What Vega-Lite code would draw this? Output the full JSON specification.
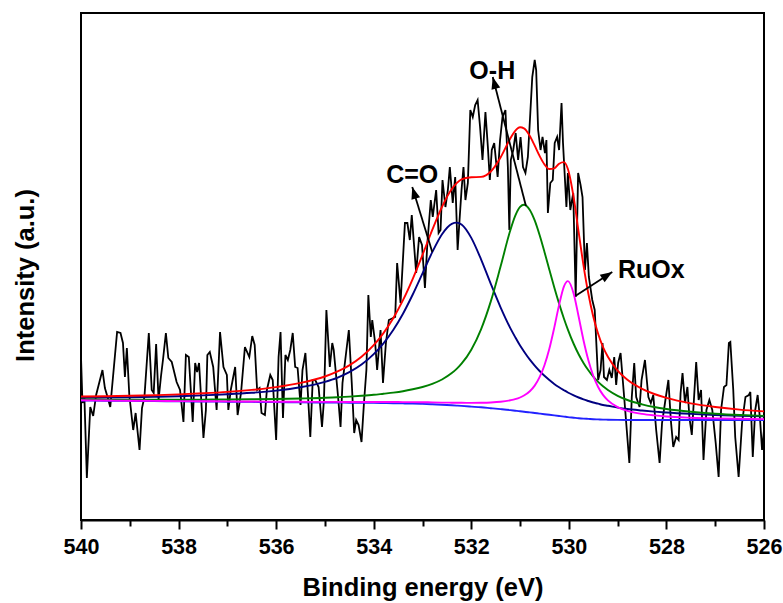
{
  "$schema": "https://vega.github.io/schema/vega-lite/v6.json",
  "width": 683,
  "height": 507,
  "autosize": "none",
  "padding": {"left": 81, "top": 13, "right": 19, "bottom": 83},
  "background": "white",
  "config": {
    "view": {"stroke": "#000", "strokeWidth": 2},
    "font": "Liberation Sans",
    "axis": {"grid": false, "domainColor": "#000", "domainWidth": 2, "tickColor": "#000", "tickWidth": 2, "labelColor": "#000", "titleColor": "#000", "labelFont": "Liberation Sans", "titleFont": "Liberation Sans"}
  },
  "datasets": {
    "raw": [
      {"E":540.00,"I":163},{"E":539.97,"I":117},{"E":539.93,"I":122},{"E":539.88,"I":42},{"E":539.81,"I":113},{"E":539.75,"I":104},{"E":539.69,"I":125},{"E":539.56,"I":150},{"E":539.51,"I":132},{"E":539.45,"I":122},{"E":539.40,"I":113},{"E":539.26,"I":188},{"E":539.19,"I":187},{"E":539.14,"I":177},{"E":539.10,"I":143},{"E":539.06,"I":172},{"E":539.01,"I":125},{"E":538.93,"I":90},{"E":538.88,"I":107},{"E":538.80,"I":70},{"E":538.75,"I":112},{"E":538.70,"I":123},{"E":538.61,"I":187},{"E":538.55,"I":130},{"E":538.51,"I":127},{"E":538.46,"I":176},{"E":538.41,"I":120},{"E":538.36,"I":144},{"E":538.32,"I":160},
      {"E":538.26,"I":187},{"E":538.21,"I":162},{"E":538.14,"I":158},{"E":538.04,"I":138},{"E":537.97,"I":130},{"E":537.90,"I":98},{"E":537.85,"I":165},{"E":537.79,"I":163},{"E":537.71,"I":98},{"E":537.66,"I":157},{"E":537.62,"I":148},{"E":537.58,"I":157},{"E":537.49,"I":82},{"E":537.44,"I":110},{"E":537.41,"I":165},{"E":537.36,"I":168},{"E":537.29,"I":153},{"E":537.22,"I":110},{"E":537.15,"I":188},{"E":537.08,"I":153},{"E":537.01,"I":145},{"E":536.98,"I":110},{"E":536.93,"I":130},{"E":536.84,"I":153},{"E":536.79,"I":105},{"E":536.72,"I":127},{"E":536.64,"I":173},{"E":536.55,"I":163},{"E":536.49,"I":184},
      {"E":536.44,"I":175},{"E":536.39,"I":130},{"E":536.34,"I":132},{"E":536.30,"I":107},{"E":536.23,"I":105},{"E":536.19,"I":130},{"E":536.12,"I":145},{"E":536.07,"I":140},{"E":536.00,"I":80},{"E":535.95,"I":163},{"E":535.91,"I":188},{"E":535.86,"I":102},{"E":535.81,"I":165},{"E":535.76,"I":160},{"E":535.71,"I":170},{"E":535.66,"I":187},{"E":535.61,"I":153},{"E":535.56,"I":152},{"E":535.50,"I":115},{"E":535.46,"I":150},{"E":535.40,"I":167},{"E":535.35,"I":127},{"E":535.30,"I":83},{"E":535.25,"I":140},{"E":535.20,"I":140},{"E":535.13,"I":133},{"E":535.06,"I":93},{"E":535.02,"I":120},{"E":534.97,"I":210},{"E":534.90,"I":153},{"E":534.85,"I":177},{"E":534.82,"I":170},{"E":534.73,"I":123},{"E":534.68,"I":93},
      {"E":534.64,"I":137},{"E":534.51,"I":190},{"E":534.45,"I":137},{"E":534.40,"I":87},{"E":534.36,"I":100},{"E":534.31,"I":95},{"E":534.25,"I":78},{"E":534.20,"I":117},{"E":534.15,"I":150},{"E":534.11,"I":225},{"E":534.06,"I":183},{"E":534.03,"I":200},{"E":533.97,"I":177},{"E":533.93,"I":150},{"E":533.86,"I":190},{"E":533.81,"I":137},{"E":533.75,"I":177},{"E":533.69,"I":200},{"E":533.56,"I":203},{"E":533.52,"I":257},{"E":533.45,"I":217},{"E":533.36,"I":297},{"E":533.31,"I":297},{"E":533.26,"I":280},{"E":533.22,"I":305},{"E":533.13,"I":247},{"E":533.07,"I":283},{"E":533.01,"I":275},{"E":532.95,"I":232},{"E":532.90,"I":277},
      {"E":532.83,"I":320},{"E":532.79,"I":303},{"E":532.72,"I":330},{"E":532.67,"I":287},{"E":532.63,"I":290},{"E":532.59,"I":340},{"E":532.53,"I":313},{"E":532.48,"I":330},{"E":532.44,"I":353},{"E":532.38,"I":317},{"E":532.33,"I":343},{"E":532.28,"I":270},{"E":532.25,"I":293},{"E":532.20,"I":330},{"E":532.16,"I":353},{"E":532.12,"I":320},{"E":532.07,"I":337},{"E":532.02,"I":410},{"E":531.97,"I":403},{"E":531.92,"I":415},{"E":531.87,"I":420},{"E":531.82,"I":393},{"E":531.77,"I":360},{"E":531.71,"I":408},{"E":531.66,"I":373},{"E":531.62,"I":340},{"E":531.58,"I":370},{"E":531.53,"I":377},{"E":531.46,"I":343},{"E":531.41,"I":380},{"E":531.36,"I":403},{"E":531.30,"I":410},{"E":531.25,"I":353},{"E":531.22,"I":290},{"E":531.19,"I":360},{"E":531.14,"I":370},
      {"E":531.09,"I":387},{"E":531.04,"I":360},{"E":530.99,"I":383},{"E":530.94,"I":353},{"E":530.89,"I":347},{"E":530.84,"I":363},{"E":530.79,"I":407},{"E":530.75,"I":443},{"E":530.70,"I":460},{"E":530.67,"I":450},{"E":530.63,"I":390},{"E":530.58,"I":370},{"E":530.54,"I":383},{"E":530.49,"I":367},{"E":530.46,"I":380},{"E":530.43,"I":307},{"E":530.38,"I":337},{"E":530.33,"I":340},{"E":530.29,"I":377},{"E":530.24,"I":383},{"E":530.20,"I":370},{"E":530.15,"I":417},{"E":530.12,"I":377},{"E":530.05,"I":313},{"E":530.02,"I":347},{"E":529.97,"I":310},{"E":529.91,"I":327},{"E":529.86,"I":223},{"E":529.81,"I":347},{"E":529.76,"I":335},{"E":529.72,"I":323},{"E":529.67,"I":250},{"E":529.63,"I":277},{"E":529.59,"I":243},{"E":529.52,"I":220},{"E":529.47,"I":210},{"E":529.40,"I":140},{"E":529.35,"I":150},
      {"E":529.31,"I":177},{"E":529.28,"I":143},{"E":529.22,"I":140},{"E":529.17,"I":150},{"E":529.12,"I":142},{"E":529.07,"I":163},{"E":529.03,"I":135},{"E":528.99,"I":157},{"E":528.94,"I":167},{"E":528.90,"I":143},{"E":528.85,"I":113},{"E":528.76,"I":57},{"E":528.71,"I":123},{"E":528.66,"I":157},{"E":528.62,"I":123},{"E":528.55,"I":113},{"E":528.51,"I":140},{"E":528.44,"I":160},{"E":528.37,"I":123},{"E":528.32,"I":117},{"E":528.27,"I":125},{"E":528.21,"I":90},{"E":528.14,"I":57},{"E":528.09,"I":97},{"E":528.03,"I":117},{"E":527.96,"I":140},{"E":527.91,"I":100},{"E":527.86,"I":73},{"E":527.80,"I":83},{"E":527.75,"I":80},{"E":527.71,"I":127},{"E":527.67,"I":147},{"E":527.62,"I":117},{"E":527.57,"I":133},
      {"E":527.53,"I":103},{"E":527.48,"I":85},{"E":527.39,"I":158},{"E":527.34,"I":120},{"E":527.29,"I":130},{"E":527.24,"I":60},{"E":527.18,"I":110},{"E":527.12,"I":120},{"E":527.06,"I":110},{"E":526.99,"I":77},{"E":526.93,"I":43},{"E":526.88,"I":110},{"E":526.82,"I":133},{"E":526.77,"I":135},{"E":526.72,"I":177},{"E":526.69,"I":178},{"E":526.63,"I":130},{"E":526.59,"I":83},{"E":526.52,"I":43},{"E":526.45,"I":97},{"E":526.38,"I":123},{"E":526.31,"I":125},{"E":526.28,"I":128},{"E":526.23,"I":63},{"E":526.18,"I":110},{"E":526.13,"I":125},{"E":526.08,"I":100},{"E":526.04,"I":70},{"E":526.00,"I":90}
    ],
    "fit": [
      {"E":540,"bg":119.5,"co":122.3,"oh":120.5,"ru":119.7,"env":123.5},
      {"E":539.5,"bg":119.3,"co":122.5,"oh":120.4,"ru":119.5,"env":123.8},
      {"E":539,"bg":119.1,"co":122.8,"oh":120.3,"ru":119.3,"env":124.2},
      {"E":538.5,"bg":118.9,"co":123.2,"oh":120.3,"ru":119.1,"env":124.8},
      {"E":538,"bg":118.7,"co":123.8,"oh":120.3,"ru":118.9,"env":125.6},
      {"E":537.5,"bg":118.5,"co":124.6,"oh":120.4,"ru":118.8,"env":126.7},
      {"E":537,"bg":118.3,"co":125.7,"oh":120.5,"ru":118.6,"env":128.1},
      {"E":536.5,"bg":118.1,"co":127.2,"oh":120.7,"ru":118.5,"env":130.1},
      {"E":536,"bg":117.9,"co":129.4,"oh":121.0,"ru":118.3,"env":132.9},
      {"E":535.5,"bg":117.7,"co":132.8,"oh":121.5,"ru":118.2,"env":137.1},
      {"E":535,"bg":117.5,"co":138.2,"oh":122.2,"ru":118.1,"env":143.5},
      {"E":534.75,"bg":117.4,"co":142.2,"oh":122.8,"ru":118.1,"env":148.3},
      {"E":534.5,"bg":117.3,"co":147.8,"oh":123.4,"ru":118.0,"env":154.6},
      {"E":534.25,"bg":117.2,"co":155.4,"oh":124.2,"ru":118.0,"env":163.2},
      {"E":534,"bg":117.1,"co":165.8,"oh":125.2,"ru":118.0,"env":174.8},
      {"E":533.8,"bg":117.0,"co":176.6,"oh":126.3,"ru":118.0,"env":186.9},
      {"E":533.6,"bg":116.8,"co":190.0,"oh":127.4,"ru":118.0,"env":201.7},
      {"E":533.4,"bg":116.6,"co":206.3,"oh":128.8,"ru":117.9,"env":219.8},
      {"E":533.2,"bg":116.4,"co":225.5,"oh":130.7,"ru":117.9,"env":241.2},
      {"E":533,"bg":116.1,"co":246.6,"oh":133.0,"ru":117.8,"env":265.1},
      {"E":532.8,"bg":115.7,"co":267.8,"oh":136.1,"ru":117.6,"env":290.1},
      {"E":532.6,"bg":115.2,"co":285.8,"oh":140.5,"ru":117.4,"env":313.2},
      {"E":532.4,"bg":114.7,"co":296.2,"oh":146.9,"ru":117.3,"env":331.0},
      {"E":532.3,"bg":114.4,"co":297.4,"oh":151.1,"ru":117.2,"env":336.9},
      {"E":532.2,"bg":114.1,"co":295.5,"oh":156.3,"ru":117.2,"env":340.7},
      {"E":532,"bg":113.4,"co":282.1,"oh":170.3,"ru":117.1,"env":342.7},
      {"E":531.8,"bg":112.7,"co":260.6,"oh":190.7,"ru":117.2,"env":343.1},
      {"E":531.6,"bg":111.8,"co":236.1,"oh":218.6,"ru":117.5,"env":348.5},
      {"E":531.4,"bg":110.9,"co":212.7,"oh":253.4,"ru":118.2,"env":362.5},
      {"E":531.2,"bg":109.9,"co":191.9,"oh":289.8,"ru":119.7,"env":381.5},
      {"E":531.1,"bg":109.3,"co":182.9,"oh":304.2,"ru":120.8,"env":389.2},
      {"E":531,"bg":108.7,"co":174.4,"oh":313.2,"ru":122.5,"env":392.7},
      {"E":530.92,"bg":108.3,"co":168.5,"oh":315.3,"ru":124.5,"env":391.7},
      {"E":530.8,"bg":107.6,"co":160.3,"oh":310.1,"ru":128.8,"env":384.0},
      {"E":530.7,"bg":107.0,"co":154.4,"oh":299.6,"ru":134.4,"env":374.4},
      {"E":530.6,"bg":106.4,"co":149.0,"oh":285.0,"ru":142.8,"env":364.1},
      {"E":530.5,"bg":105.8,"co":144.2,"oh":268.1,"ru":154.8,"env":355.6},
      {"E":530.4,"bg":105.2,"co":140.0,"oh":250.2,"ru":171.2,"env":351.0},
      {"E":530.3,"bg":104.6,"co":136.1,"oh":232.8,"ru":192.1,"env":351.7},
      {"E":530.2,"bg":104.0,"co":132.8,"oh":216.4,"ru":215.1,"env":356.3},
      {"E":530.1,"bg":103.4,"co":129.8,"oh":201.3,"ru":233.7,"env":357.9},
      {"E":530.02,"bg":102.9,"co":127.5,"oh":190.4,"ru":238.9,"env":351.0},
      {"E":529.9,"bg":102.3,"co":124.6,"oh":176.0,"ru":226.1,"env":322.1},
      {"E":529.8,"bg":101.8,"co":122.5,"oh":165.8,"ru":203.5,"env":288.1},
      {"E":529.7,"bg":101.4,"co":120.6,"oh":157.1,"ru":179.8,"env":254.7},
      {"E":529.6,"bg":101.1,"co":119.0,"oh":149.7,"ru":159.8,"env":226.2},
      {"E":529.5,"bg":100.8,"co":117.5,"oh":143.3,"ru":144.3,"env":203.5},
      {"E":529.4,"bg":100.6,"co":116.3,"oh":138.1,"ru":133.0,"env":186.2},
      {"E":529.3,"bg":100.4,"co":115.0,"oh":133.7,"ru":125.1,"env":173.0},
      {"E":529.2,"bg":100.3,"co":114.2,"oh":130.0,"ru":119.6,"env":163.2},
      {"E":529,"bg":100.1,"co":112.4,"oh":124.2,"ru":112.9,"env":149.3},
      {"E":528.8,"bg":100,"co":111.0,"oh":120.0,"ru":109.2,"env":140.2},
      {"E":528.5,"bg":100,"co":109.5,"oh":115.7,"ru":106.1,"env":131.2},
      {"E":528.25,"bg":100,"co":108.4,"oh":113.0,"ru":104.6,"env":126.0},
      {"E":528,"bg":100,"co":107.5,"oh":111.0,"ru":103.5,"env":122.1},
      {"E":527.5,"bg":100,"co":106.1,"oh":108.2,"ru":102.3,"env":116.6},
      {"E":527,"bg":100,"co":105.0,"oh":106.3,"ru":101.6,"env":113.0},
      {"E":526.5,"bg":100,"co":104.2,"oh":105.0,"ru":101.2,"env":110.4},
      {"E":526,"bg":100,"co":103.6,"oh":104.1,"ru":100.9,"env":108.6}
    ]
  },
  "layer": [
    {
      "data": {"name": "raw"},
      "mark": {"type": "line", "color": "#000000", "strokeWidth": 1.8, "clip": true},
      "encoding": {
        "x": {"field": "E", "type": "quantitative", "scale": {"domain": [526, 540], "reverse": true, "nice": false, "zero": false},
              "axis": {"orient": "bottom", "values": [539, 537, 535, 533, 531, 529, 527], "tickSize": 6, "labels": false, "domain": false, "title": null, "grid": false}},
        "y": {"field": "I", "type": "quantitative", "scale": {"domain": [0, 507], "nice": false},
              "axis": {"title": "Intensity (a.u.)", "ticks": false, "labels": false, "domain": false, "grid": false, "titleFontSize": 25.5, "titleFontWeight": "bold", "titlePadding": 43, "titleY": 262}}
      }
    },
    {
      "data": {"name": "fit"},
      "transform": [{"fold": ["bg", "co", "oh", "ru", "env"], "as": ["s", "v"]}],
      "mark": {"type": "line", "strokeWidth": 1.9, "interpolate": "monotone", "clip": true},
      "encoding": {
        "x": {"field": "E", "type": "quantitative", "scale": {"domain": [526, 540], "reverse": true, "nice": false, "zero": false},
              "axis": {"orient": "bottom", "values": [540, 538, 536, 534, 532, 530, 528, 526], "tickSize": 9, "labelPadding": 7, "labelFontSize": 21.5, "labelFontWeight": "bold", "labelFlush": false, "labelOverlap": false, "title": "Binding energy (eV)", "titleFontSize": 25.5, "titleFontWeight": "bold", "titlePadding": 18, "grid": false}},
        "y": {"field": "v", "type": "quantitative", "scale": {"domain": [0, 507], "nice": false},
              "axis": {"title": "Intensity (a.u.)", "ticks": false, "labels": false, "domain": false, "grid": false, "titleFontSize": 25.5, "titleFontWeight": "bold", "titlePadding": 43, "titleY": 262}},
        "color": {"field": "s", "type": "nominal", "legend": null,
                  "scale": {"domain": ["bg", "co", "oh", "ru", "env"], "range": ["#2222ff", "#000080", "#008000", "#ff00ff", "#ff0000"]}},
        "order": {"field": "E", "sort": "descending"}
      }
    },
    {
      "data": {"values": [{"E": 533.21, "I": 345, "t": "C=O"}, {"E": 531.57, "I": 449.5, "t": "O-H"}, {"E": 528.31, "I": 250, "t": "RuOx"}]},
      "mark": {"type": "text", "font": "Liberation Sans", "fontSize": 25, "fontWeight": "bold", "color": "#000", "align": "center", "baseline": "middle"},
      "encoding": {
        "x": {"field": "E", "type": "quantitative", "scale": {"domain": [526, 540], "reverse": true, "nice": false, "zero": false}, "axis": null},
        "y": {"field": "I", "type": "quantitative", "scale": {"domain": [0, 507], "nice": false},
              "axis": {"title": "Intensity (a.u.)", "ticks": false, "labels": false, "domain": false, "grid": false, "titleFontSize": 25.5, "titleFontWeight": "bold", "titlePadding": 43, "titleY": 262}},
        "text": {"field": "t"}
      }
    },
    {
      "data": {"values": [{"E": 532.80, "I": 268, "E2": 533.21, "I2": 333}, {"E": 530.88, "I": 314, "E2": 531.56, "I2": 443}, {"E": 529.86, "I": 224.3, "E2": 529.11, "I2": 248}]},
      "mark": {"type": "rule", "color": "#000", "strokeWidth": 1.8},
      "encoding": {
        "x": {"field": "E", "type": "quantitative", "scale": {"domain": [526, 540], "reverse": true, "nice": false, "zero": false}, "axis": null},
        "y": {"field": "I", "type": "quantitative", "scale": {"domain": [0, 507], "nice": false},
              "axis": {"title": "Intensity (a.u.)", "ticks": false, "labels": false, "domain": false, "grid": false, "titleFontSize": 25.5, "titleFontWeight": "bold", "titlePadding": 43, "titleY": 262}},
        "x2": {"field": "E2"},
        "y2": {"field": "I2"}
      }
    },
    {
      "data": {"values": [{"E": 533.21, "I": 333}]},
      "mark": {"type": "point", "shape": "M0,0L-0.75,2L0.75,2Z", "size": 144, "filled": true, "color": "#000", "opacity": 1, "angle": 343},
      "encoding": {
        "x": {"field": "E", "type": "quantitative", "scale": {"domain": [526, 540], "reverse": true, "nice": false, "zero": false}, "axis": null},
        "y": {"field": "I", "type": "quantitative", "scale": {"domain": [0, 507], "nice": false},
              "axis": {"title": "Intensity (a.u.)", "ticks": false, "labels": false, "domain": false, "grid": false, "titleFontSize": 25.5, "titleFontWeight": "bold", "titlePadding": 43, "titleY": 262}}
      }
    },
    {
      "data": {"values": [{"E": 531.56, "I": 443}]},
      "mark": {"type": "point", "shape": "M0,0L-0.75,2L0.75,2Z", "size": 144, "filled": true, "color": "#000", "opacity": 1, "angle": 345},
      "encoding": {
        "x": {"field": "E", "type": "quantitative", "scale": {"domain": [526, 540], "reverse": true, "nice": false, "zero": false}, "axis": null},
        "y": {"field": "I", "type": "quantitative", "scale": {"domain": [0, 507], "nice": false},
              "axis": {"title": "Intensity (a.u.)", "ticks": false, "labels": false, "domain": false, "grid": false, "titleFontSize": 25.5, "titleFontWeight": "bold", "titlePadding": 43, "titleY": 262}}
      }
    },
    {
      "data": {"values": [{"E": 529.11, "I": 248}]},
      "mark": {"type": "point", "shape": "M0,0L-0.75,2L0.75,2Z", "size": 144, "filled": true, "color": "#000", "opacity": 1, "angle": 57},
      "encoding": {
        "x": {"field": "E", "type": "quantitative", "scale": {"domain": [526, 540], "reverse": true, "nice": false, "zero": false}, "axis": null},
        "y": {"field": "I", "type": "quantitative", "scale": {"domain": [0, 507], "nice": false},
              "axis": {"title": "Intensity (a.u.)", "ticks": false, "labels": false, "domain": false, "grid": false, "titleFontSize": 25.5, "titleFontWeight": "bold", "titlePadding": 43, "titleY": 262}}
      }
    }
  ],
  "resolve": {"axis": {"x": "independent"}}
}
